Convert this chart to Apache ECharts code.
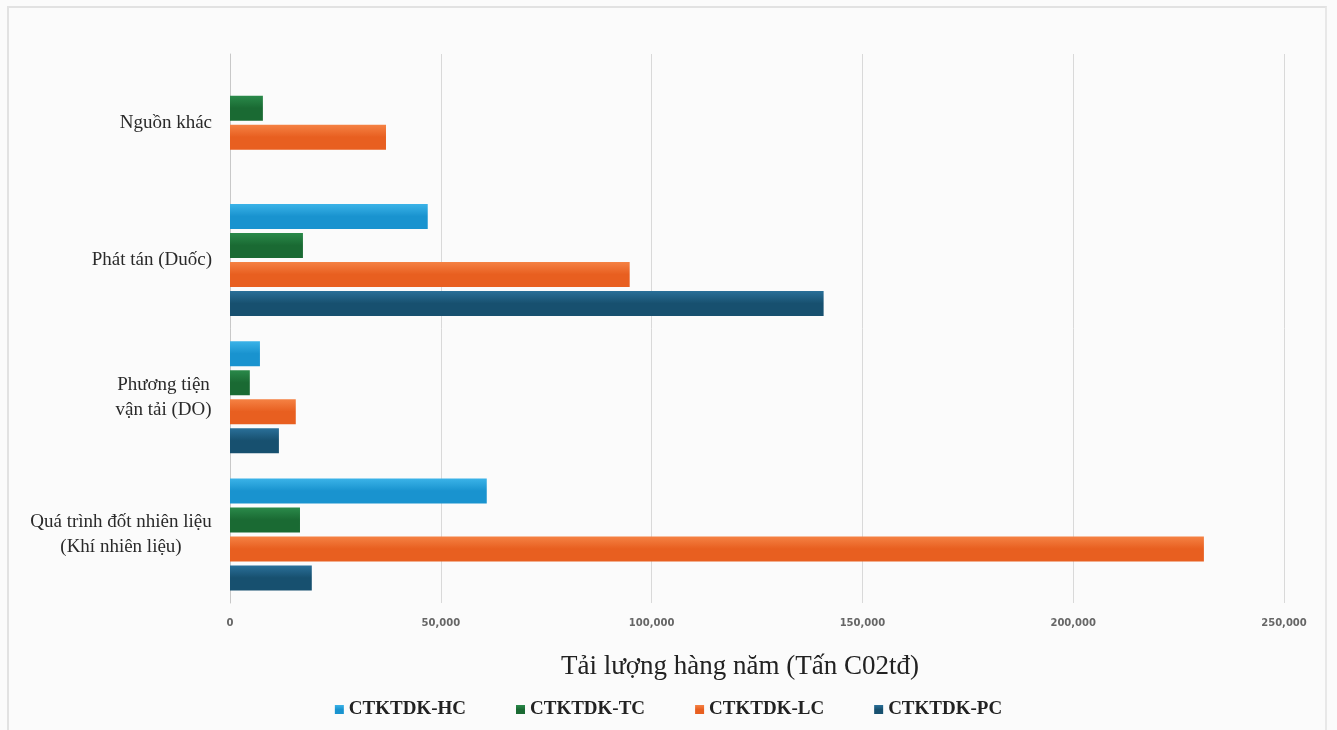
<!DOCTYPE html>
<html>
<head>
<meta charset="utf-8">
<script src="https://cdn.jsdelivr.net/npm/echarts@6/dist/echarts.min.js"></script>
<style>
  html, body { margin: 0; padding: 0; background: #fff; }
  #chart { width: 1337px; height: 730px; }
  #frame { position: absolute; left: 7px; top: 6px; width: 1320px; height: 730px; border-left: 2px solid #e2e2e2; border-top: 2px solid #e2e2e2; border-right: 2px solid #e8e8e8; box-sizing: border-box; pointer-events: none; }
</style>
</head>
<body>
<div id="chart"></div>
<div id="frame"></div>
<script>
// categories listed top to bottom (axis is inverted)
const categories = [
  'Nguồn khác',
  'Phát tán (Duốc)',
  'Phương tiện\nvận tải (DO)',
  'Quá trình đốt nhiên liệu\n(Khí nhiên liệu)',
];
const seriesNames = ['CTKTDK-HC', 'CTKTDK-TC', 'CTKTDK-LC', 'CTKTDK-PC'];
const hcValues = [null, 46900, 7100, 60900];
const tcValues = [7800, 17300, 4700, 16600];
const lcValues = [37000, 94800, 15600, 231000];
const pcValues = [null, 140800, 11600, 19400];
const xTicks = [0, 50000, 100000, 150000, 200000, 250000];

const colors = [
  ['#3bb3e8', '#1993cf'],
  ['#2a8a4a', '#1a6a33'],
  ['#f58244', '#e85f20'],
  ['#2a7099', '#17506f'],
];

const catSize = 19;
const ctx = document.createElement('canvas').getContext('2d');
ctx.font = catSize + 'px "Liberation Serif"';

// multi-line labels: lines centred on each other, block right-aligned to the axis
function lineWidth(value) {
  return Math.ceil(Math.max(...value.split('\n').map((l) => ctx.measureText(l).width)));
}
function catLabel(value) {
  const lines = value.split('\n');
  if (lines.length === 1) return value;
  const w = lineWidth(value);
  return lines.map((l) => `{c${w}|${l}}`).join('\n');
}
const rich = {};
categories.forEach((c) => {
  if (c.includes('\n')) {
    const w = lineWidth(c);
    rich['c' + w] = { width: w, align: 'center', fontFamily: 'Liberation Serif', fontSize: catSize, lineHeight: 25, color: '#2a2a2a' };
  }
});

const chart = echarts.init(document.getElementById('chart'));

function barSeries(name, data, idx) {
  return {
    name,
    type: 'bar',
    data,
    barWidth: 25,
    barGap: '16%',
    itemStyle: {
      color: new echarts.graphic.LinearGradient(0, 0, 0, 1, [
        { offset: 0, color: colors[idx][0] },
        { offset: 0.5, color: colors[idx][1] },
        { offset: 1, color: colors[idx][1] },
      ]),
      shadowColor: 'rgba(0,0,0,0.25)',
      shadowBlur: 3,
      shadowOffsetY: 1,
    },
  };
}

chart.setOption({
  backgroundColor: '#fbfbfb',
  color: colors.map((c) => c[1]),
  grid: { left: 230, right: 53, top: 54, bottom: 127, containLabel: false },
  xAxis: {
    type: 'value',
    min: xTicks[0],
    max: xTicks[xTicks.length - 1],
    interval: 50000,
    name: 'Tải lượng hàng năm (Tấn C02tđ)',
    nameLocation: 'middle',
    nameGap: 50,
    nameTextStyle: { fontFamily: 'Liberation Serif', fontSize: 27, color: '#222', padding: [0, 34, 0, 0] },
    axisLine: { show: false },
    axisTick: { show: false },
    axisLabel: {
      margin: 15,
      fontFamily: 'DejaVu Sans',
      fontWeight: 'bold',
      fontSize: 10,
      color: '#666',
      formatter: (v) => v.toLocaleString('en-US'),
    },
    splitLine: { lineStyle: { color: '#d9d9d9', width: 1 } },
  },
  yAxis: {
    type: 'category',
    inverse: true,
    data: categories,
    axisLine: { show: true, lineStyle: { color: '#c8c8c8' } },
    axisTick: { show: false },
    axisLabel: {
      margin: 18,
      fontFamily: 'Liberation Serif',
      fontSize: catSize,
      lineHeight: 25,
      color: '#2a2a2a',
      align: 'right',
      formatter: catLabel,
      rich,
    },
  },
  legend: {
    bottom: 6,
    left: 'center',
    itemWidth: 9,
    itemHeight: 9,
    itemGap: 50,
    icon: 'rect',
    textStyle: { fontFamily: 'Liberation Serif', fontWeight: 'bold', fontSize: 19, color: '#222' },
    data: seriesNames,
  },
  series: [
    barSeries(seriesNames[0], hcValues, 0),
    barSeries(seriesNames[1], tcValues, 1),
    barSeries(seriesNames[2], lcValues, 2),
    barSeries(seriesNames[3], pcValues, 3),
  ],
});
</script>
</body>
</html>
